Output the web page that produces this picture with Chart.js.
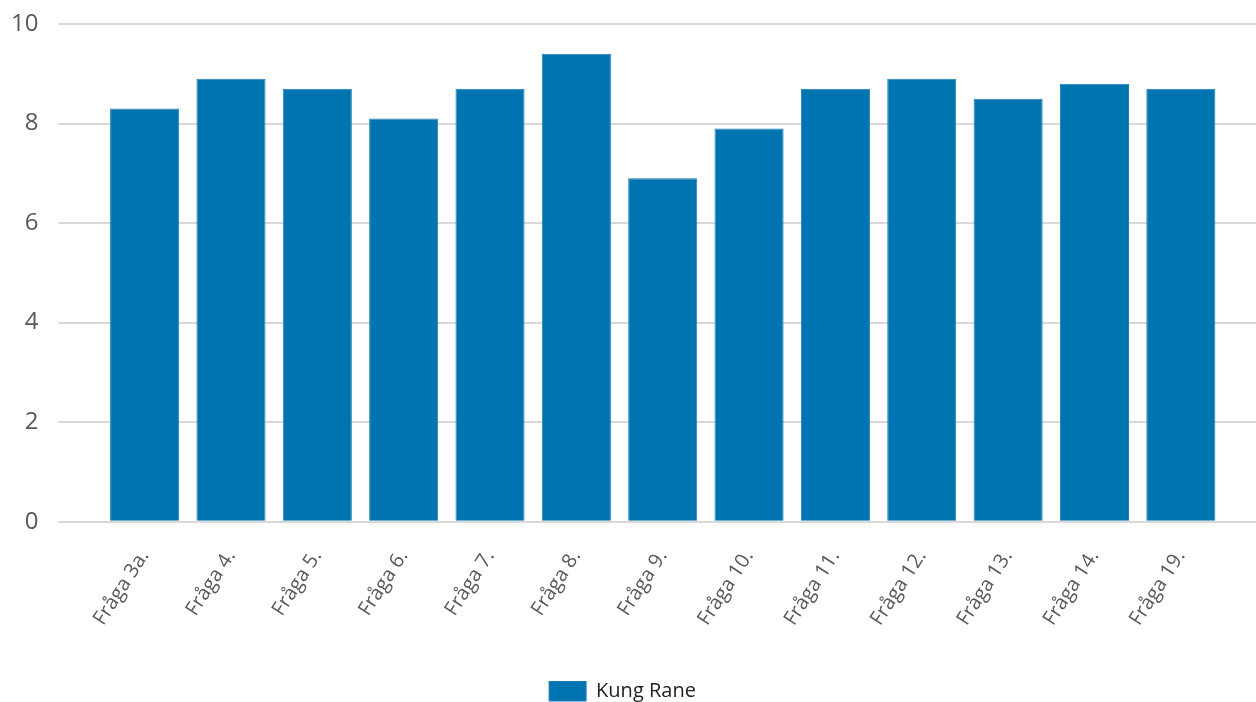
<!DOCTYPE html>
<html>
<head>
<meta charset="utf-8">
<script src="https://cdn.jsdelivr.net/npm/chart.js@4"></script>
<style>
    html, body { margin: 0; padding: 0; background: #fff; }
    #wrap { width: 1256px; height: 702px; position: relative; }
</style>
</head>
<body>
<div id="wrap"><canvas id="bar-chart"></canvas></div>
<script>
const categories = ['Fråga 3a.', 'Fråga 4.', 'Fråga 5.', 'Fråga 6.', 'Fråga 7.', 'Fråga 8.', 'Fråga 9.',
    'Fråga 10.', 'Fråga 11.', 'Fråga 12.', 'Fråga 13.', 'Fråga 14.', 'Fråga 19.'];
const kungRane = [8.3, 8.9, 8.7, 8.1, 8.7, 9.4, 6.9, 7.9, 8.7, 8.9, 8.5, 8.8, 8.7];
const seriesName = 'Kung Rane';
const yMin = 0;
const yMax = 10;
const yStep = 2;

document.addEventListener('DOMContentLoaded', () => {
    const canvas = document.getElementById('bar-chart');
    const gridColor = '#d9d9d9';

    new Chart(canvas, {
        type: 'bar',
        data: {
            labels: categories,
            datasets: [{
                label: seriesName,
                data: kungRane,
                backgroundColor: '#0074b0',
                borderColor: '#1f80b6',
                borderWidth: 1,
                categoryPercentage: 1.0,
                barPercentage: 0.8
            }]
        },
        options: {
            responsive: true,
            maintainAspectRatio: false,
            animation: false,
            // negative left padding moves the centred legend a bit to the left
            layout: { padding: { left: -11, top: 0, right: 0, bottom: -9 } },
            plugins: {
                tooltip: { enabled: false },
                legend: {
                    position: 'bottom',
                    labels: {
                        boxWidth: 37,
                        boxHeight: 20,
                        padding: 0,
                        color: '#222',
                        font: { family: 'Open Sans', size: 20 }
                    }
                }
            },
            scales: {
                x: {
                    grid: { display: false },
                    border: { display: false },
                    ticks: {
                        color: '#595959',
                        font: { family: 'Open Sans', size: 20 },
                        minRotation: 57,
                        maxRotation: 57,
                        padding: 16
                    },
                    // keep the plot edge where the y axis ends, leave room above the legend
                    afterFit: axis => {
                        axis.paddingLeft = 0;
                        axis.height += 35;
                    }
                },
                y: {
                    min: yMin,
                    max: yMax,
                    border: { display: false },
                    grid: { color: gridColor, lineWidth: 2, tickLength: 43, tickColor: gridColor },
                    ticks: {
                        stepSize: yStep,
                        color: '#595959',
                        padding: 20,
                        font: { family: 'Open Sans', size: 24 }
                    },
                    afterFit: axis => {
                        axis.width += 2;
                        axis.paddingTop = 24;
                    }
                },
                yRight: {
                    position: 'right',
                    min: yMin,
                    max: yMax,
                    border: { display: false },
                    grid: { color: gridColor, lineWidth: 2, tickLength: 32, tickColor: gridColor },
                    ticks: { stepSize: yStep, display: false }
                }
            }
        }
    });
});
</script>
</body>
</html>
